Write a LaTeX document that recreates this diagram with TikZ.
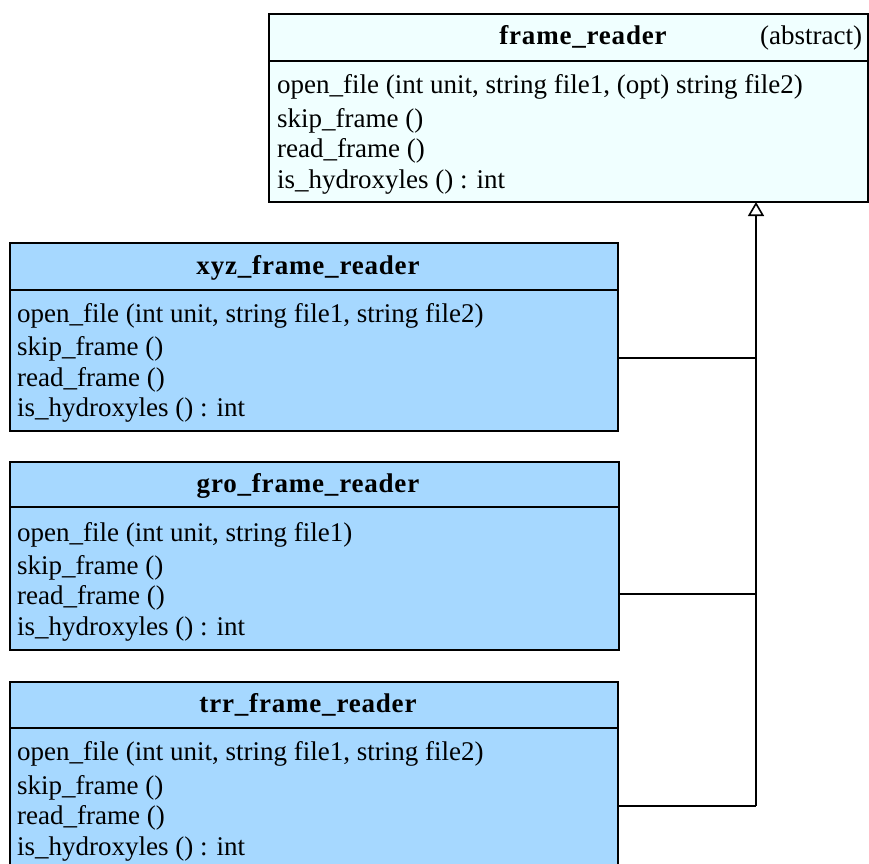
\documentclass[tikz,border=0pt]{standalone}
\usepackage{fontspec}
\setmainfont{Liberation Serif}
\usetikzlibrary{arrows.meta}
\definecolor{absfill}{RGB}{240,255,255}
\definecolor{clsfill}{RGB}{166,216,255}
\tikzset{
  classbox/.style={draw=black, line width=1.6pt, inner sep=0pt},
  divider/.style={draw=black, line width=1.4pt},
  member/.style={anchor=west, inner sep=0pt, font=\fontsize{27}{30}\selectfont, text height=0.7em, text depth=0.22em},
  title/.style={anchor=center, inner sep=0pt, font=\fontsize{27}{30}\selectfont\bfseries\addfontfeature{LetterSpace=3}, text height=0.7em, text depth=0.22em},
  link/.style={draw=black, line width=1.6pt},
}
\begin{document}
\begin{tikzpicture}[x=1pt,y=-1pt]
\useasboundingbox (0,0) rectangle (869,863);
% abstract class
\path[classbox, fill=absfill] (269,14) rectangle (868,202);
\node[classbox, draw=none, minimum width=599pt, minimum height=188pt] (fr) at (568.5,108) {};
\draw[divider] (269,61) -- (868,61);
\node[title] (frt) at (583,42) {frame\_reader};
\node[member] (fra) at (760,42) {(abstract)};
\node[member] (fr1) at (277,91) {open\_file (int unit, string file1, (opt) string file2)};
\node[member] (fr2) at (277,125) {skip\_frame ()};
\node[member] (fr3) at (277,155) {read\_frame ()};
\node[member] (fr4) at (277,186) {is\_hydroxyles () : int};
% xyz
\node[classbox, fill=clsfill, minimum width=608pt, minimum height=188pt] (xyz) at (314,337) {};
\draw[divider] (10,290) -- (618,290);
\node[title] (xyzt) at (308,272) {xyz\_frame\_reader};
\node[member] (x1) at (17,320) {open\_file (int unit, string file1, string file2)};
\node[member] (x2) at (17,353) {skip\_frame ()};
\node[member] (x3) at (17,384) {read\_frame ()};
\node[member] (x4) at (17,414) {is\_hydroxyles () : int};
% gro
\node[classbox, fill=clsfill, minimum width=609pt, minimum height=188pt] (gro) at (314.5,556) {};
\draw[divider] (10,507) -- (619,507);
\node[title] (grot) at (308,490) {gro\_frame\_reader};
\node[member] (g1) at (17,539) {open\_file (int unit, string file1)};
\node[member] (g2) at (17,572) {skip\_frame ()};
\node[member] (g3) at (17,602) {read\_frame ()};
\node[member] (g4) at (17,633) {is\_hydroxyles () : int};
% trr
\path[classbox, fill=clsfill] (10,682) rectangle (618,880);
\node[minimum width=608pt, minimum height=198pt, inner sep=0pt] (trr) at (314,781) {};
\draw[divider] (10,728) -- (618,728);
\node[title] (trrt) at (308,710) {trr\_frame\_reader};
\node[member] (t1) at (17,758) {open\_file (int unit, string file1, string file2)};
\node[member] (t2) at (17,792) {skip\_frame ()};
\node[member] (t3) at (17,822) {read\_frame ()};
\node[member] (t4) at (17,853) {is\_hydroxyles () : int};
% connectors
\coordinate (c1) at (756,358);
\coordinate (c2) at (756,594);
\coordinate (c3) at (756,806);
\coordinate (top) at (756,202);
\draw[link] (xyz.east |- c1) -- (c1);
\draw[link] (gro.east |- c2) -- (c2);
\draw[link] (trr.east |- c3) -- (c3);
\draw[link, -{Triangle[open, length=14pt, width=16pt, line width=1.6pt]}] (c3) -- (top);
\end{tikzpicture}
\end{document}
